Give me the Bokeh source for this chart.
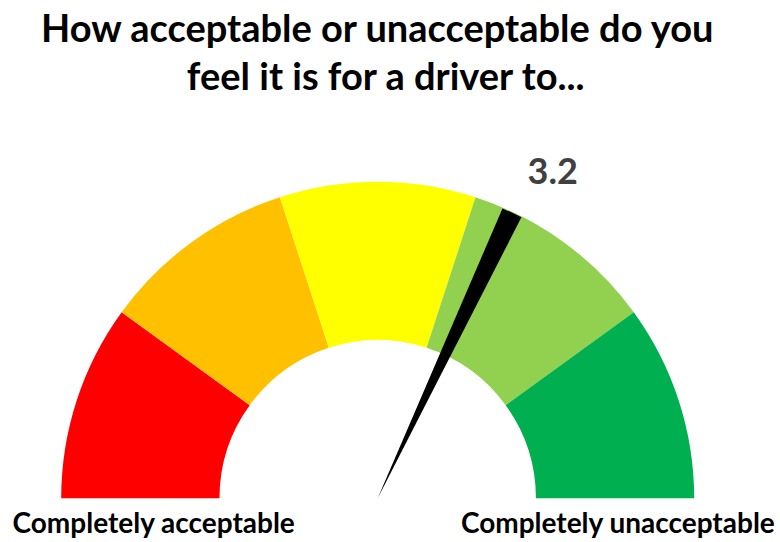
import math
from bokeh.plotting import figure
from bokeh.models import Range1d, ColumnDataSource
from bokeh.core.properties import value
from bokeh.embed import file_html
from bokeh.resources import INLINE

# ---- data ----
segment_starts = [0, 1, 2, 3, 4]
segment_ends = [1, 2, 3, 4, 5]
segment_colors = ["#FF0000", "#FFC000", "#FFFF00", "#92D050", "#00B050"]
scale_min = 0
scale_max = 5
gauge_value = 3.2
value_label = "3.2"
title_lines = ["How acceptable or unacceptable do you", "feel it is for a driver to..."]
low_label = "Completely acceptable"
high_label = "Completely unacceptable"

# ---- layout (pixel-like data units) ----
W, H = 780, 542
cx, cy = 377.2, 44.3
r_out, r_in = 316.5, 158.2
needle_half_width_deg = 1.9


def to_angle(v):
    return math.pi * (1 - (v - scale_min) / (scale_max - scale_min))


p = figure(width=W, height=H, x_range=Range1d(0, W), y_range=Range1d(0, H),
           x_axis_type=None, y_axis_type=None, toolbar_location=None,
           output_backend="svg", min_border=0)
p.grid.visible = False
p.outline_line_color = None
p.background_fill_color = "white"
p.border_fill_color = "white"

seg = ColumnDataSource(dict(
    x=[cx] * len(segment_starts), y=[cy] * len(segment_starts),
    start=[to_angle(e) for e in segment_ends],
    end=[to_angle(s) for s in segment_starts],
    color=segment_colors,
))
p.annular_wedge(x="x", y="y", inner_radius=r_in, outer_radius=r_out,
                start_angle="start", end_angle="end", fill_color="color",
                line_color=None, source=seg)

a = to_angle(gauge_value)
hw = math.radians(needle_half_width_deg)
p.wedge(x=[cx], y=[cy], radius=r_out - 1, start_angle=[a - hw], end_angle=[a + hw],
        fill_color="black", line_color=None)

p.text(x=[527], y=[372], text=[value_label], text_font=value("Lato"),
       text_font_style="bold", text_font_size=value("36px"), text_color="#404040",
       text_align="left", text_baseline="alphabetic")

p.text(x=[378, 386], y=[516, 468], text=title_lines, text_font=value("Lato"),
       text_font_style="bold", text_font_size=value("38px"), text_color="black",
       text_align="center", text_baseline="alphabetic")

p.text(x=[12], y=[21], text=[low_label], text_font=value("Lato"),
       text_font_style="bold", text_font_size=value("28px"), text_color="black",
       text_align="left", text_baseline="alphabetic")
p.text(x=[775], y=[21], text=[high_label], text_font=value("Lato"),
       text_font_style="bold", text_font_size=value("28px"), text_color="black",
       text_align="right", text_baseline="alphabetic")

open("out.html", "w").write(file_html(p, INLINE))
